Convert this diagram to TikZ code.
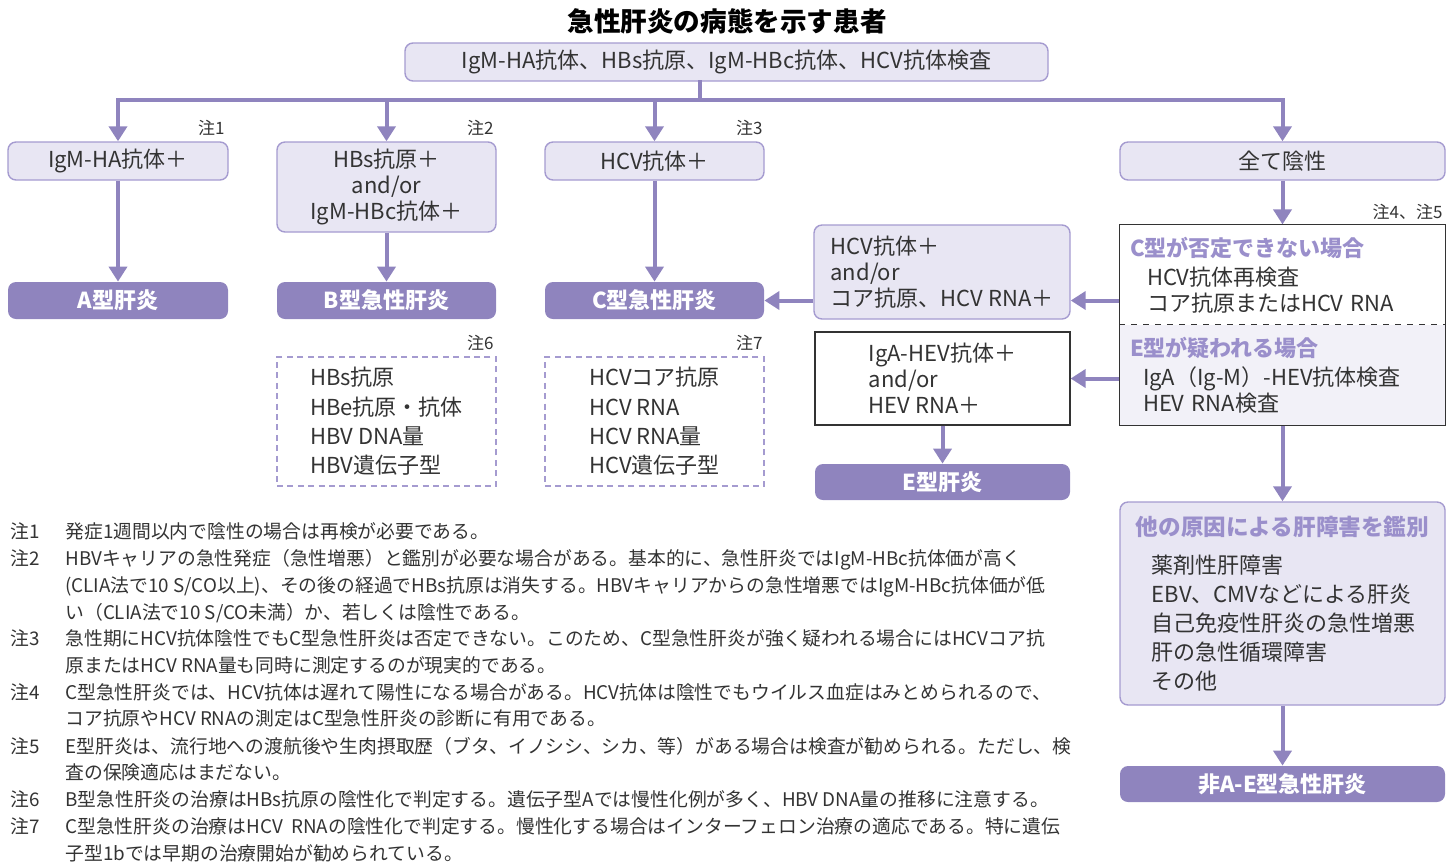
\documentclass[tikz,border=0pt]{standalone}
\usepackage{fontspec}
\setmainfont{Noto Sans CJK JP}
\usetikzlibrary{arrows.meta, positioning}

\definecolor{hpurple}{HTML}{8F84BE}
\definecolor{hlight}{HTML}{E8E6F3}
\definecolor{hborder}{HTML}{A59BD0}
\definecolor{hpale}{HTML}{F2F1F8}
\definecolor{hhead}{HTML}{9A8FCB}
\definecolor{hdark}{HTML}{333333}

\newcommand{\boxfont}{\fontsize{11}{13}\selectfont}
\newcommand{\notefont}{\fontsize{9.4}{12}\selectfont}

\tikzstyle{testbox} = [rectangle, rounded corners=4pt, draw=hborder, fill=hlight, line width=0.7pt, align=center, font=\boxfont, text=hdark]
\tikzstyle{result} = [rectangle, rounded corners=4pt, fill=hpurple, text=white, font=\boxfont\bfseries]
\tikzstyle{listbox} = [rectangle, draw=hborder, dash pattern=on 3pt off 2.2pt, line width=1.1pt, align=left, font=\fontsize{11}{14.7}\selectfont, text=hdark]
\tikzstyle{plainbox} = [rectangle, draw=hdark, line width=0.6pt, fill=white, align=left, font=\boxfont, text=hdark]
\tikzstyle{flow} = [line width=2pt, draw=hpurple, line cap=rect]
\tikzstyle{arrow} = [line width=2pt, draw=hpurple, -{Triangle[width=9pt,length=7.5pt]}]
\tikzstyle{noteref} = [anchor=base east, font=\fontsize{8.5}{10}\selectfont, text=hdark, inner sep=0pt]
\tikzstyle{notetext} = [anchor=base west, font=\notefont, text=hdark, inner sep=0pt]

\begin{document}
\begin{tikzpicture}[x=0.5pt, y=-0.5pt]
\useasboundingbox (0,0) rectangle (1456,864);

% title and first screening
\node (title) [font=\bfseries\fontsize{13.3}{16}\selectfont, text=black] at (727,21) {急性肝炎の病態を示す患者};
\node (screen) [testbox, minimum width=321.5pt, minimum height=19pt] at (726.5,62) {IgM-HA抗体、HBs抗原、IgM-HBc抗体、HCV抗体検査};
\coordinate (hub) at (700,100);

% first results
\node (igmha) [testbox, minimum width=110pt, minimum height=19pt] at (118,161) {IgM-HA抗体＋};
\node (hbs) [testbox, minimum width=109.5pt, minimum height=45pt] at (386.5,187) {HBs抗原＋\\and/or\\IgM-HBc抗体＋};
\node (hcv) [testbox, minimum width=109.5pt, minimum height=19pt] at (654.5,161) {HCV抗体＋};
\node (allneg) [testbox, minimum width=162.5pt, minimum height=19pt] at (1282.5,161) {全て陰性};

\node (ref1) [noteref] at (225,134) {注1};
\node (ref2) [noteref] at (494,134) {注2};
\node (ref3) [noteref] at (763,134) {注3};
\node (ref45) [noteref] at (1443,218) {注4、注5};
\node (ref6) [noteref] at (494,349) {注6};
\node (ref7) [noteref] at (763,349) {注7};

% diagnoses
\node (hepA) [result, minimum width=110pt, minimum height=18.5pt] at (118,300.5) {A型肝炎};
\node (hepB) [result, minimum width=109.5pt, minimum height=18.5pt] at (386.5,300.5) {B型急性肝炎};
\node (hepC) [result, minimum width=109.5pt, minimum height=18.5pt] at (654.5,300.5) {C型急性肝炎};
\node (hepE) [result, minimum width=127.5pt, minimum height=18pt] at (942.5,482) {E型肝炎};
\node (hepNonAE) [result, minimum width=162.5pt, minimum height=18pt] at (1282.5,784) {非A-E型急性肝炎};

% follow-up lists
\node (listB) [listbox, minimum width=109.5pt, minimum height=64.5pt] at (386.5,421.5) {HBs抗原\\HBe抗原・抗体\\HBV DNA量\\HBV遺伝子型};
\node (listC) [listbox, minimum width=109.5pt, minimum height=64.5pt] at (654.5,421.5) {HCVコア抗原\\HCV RNA\\HCV RNA量\\HCV遺伝子型};

% re-examination
\node (checkC) [plainbox, draw=none, minimum width=162.5pt, minimum height=50pt, text width=152.5pt, inner xsep=5pt] at (1282.5,275) {{\color{hhead}\bfseries C型が否定できない場合}\\[1.5pt]\hspace*{8.5pt}HCV抗体再検査\\\hspace*{8.5pt}コア抗原またはHCV RNA};
\node (checkE) [plainbox, draw=none, fill=hpale, minimum width=162.5pt, minimum height=50pt, text width=152.5pt, inner xsep=5pt] at (1282.5,375) {{\color{hhead}\bfseries E型が疑われる場合}\\[1.5pt]\hspace*{6.5pt}IgA（Ig-M）-HEV抗体検査\\\hspace*{6.5pt}HEV RNA検査};
\draw [hdark, line width=0.6pt] (checkC.north west) rectangle (checkE.south east);
\draw [hdark, line width=0.6pt, dashed] (checkE.north west) -- (checkE.north east);

\node (hcvPos) [testbox, align=left, minimum width=128pt, minimum height=47pt] at (942,272) {HCV抗体＋\\and/or\\コア抗原、HCV RNA＋};
\node (hevPos) [plainbox, minimum width=127.5pt, minimum height=46.5pt] at (942.5,378.5) {IgA-HEV抗体＋\\and/or\\HEV RNA＋};

\node (others) [testbox, align=left, minimum width=162.5pt, minimum height=101.5pt, font=\fontsize{11}{14.5}\selectfont] at (1282.5,603.5) {{\color{hhead}\bfseries\fontsize{11.3}{14.5}\selectfont 他の原因による肝障害を鑑別}\\[4.5pt]\hspace*{8pt}薬剤性肝障害\\\hspace*{8pt}EBV、CMVなどによる肝炎\\\hspace*{8pt}自己免疫性肝炎の急性増悪\\\hspace*{8pt}肝の急性循環障害\\\hspace*{8pt}その他};

% connectors
\draw [flow] (screen.south -| hub) -- (hub);
\draw [flow] (igmha.north |- hub) -- (allneg.north |- hub);
\draw [arrow] (igmha.north |- hub) -- (igmha);
\draw [arrow] (hbs.north |- hub) -- (hbs);
\draw [arrow] (hcv.north |- hub) -- (hcv);
\draw [arrow] (allneg.north |- hub) -- (allneg);
\draw [arrow] (igmha) -- (hepA);
\draw [arrow] (hbs) -- (hepB);
\draw [arrow] (hcv) -- (hepC);
\draw [arrow] (allneg) -- (checkC);
\draw [arrow] (checkC.west |- hepC) -- (hcvPos.east |- hepC);
\draw [arrow] (hcvPos.west |- hepC) -- (hepC);
\draw [arrow] (checkE.west |- hevPos) -- (hevPos);
\draw [arrow] (hevPos) -- (hepE);
\draw [arrow] (checkE) -- (others);
\draw [arrow] (others) -- (hepNonAE);

% notes
\node (n1) [notetext] at (10,538) {注1};
\node (n1a) [notetext] at (65,538) {発症1週間以内で陰性の場合は再検が必要である。};
\node (n2) [notetext] at (10,565) {注2};
\node (n2a) [notetext] at (65,565) {HBVキャリアの急性発症（急性増悪）と鑑別が必要な場合がある。基本的に、急性肝炎ではIgM-HBc抗体価が高く};
\node (n2b) [notetext] at (65,592) {(CLIA法で10 S/CO以上)、その後の経過でHBs抗原は消失する。HBVキャリアからの急性増悪ではIgM-HBc抗体価が低};
\node (n2c) [notetext] at (65,619) {い（CLIA法で10 S/CO未満）か、若しくは陰性である。};
\node (n3) [notetext] at (10,645) {注3};
\node (n3a) [notetext] at (65,645) {急性期にHCV抗体陰性でもC型急性肝炎は否定できない。このため、C型急性肝炎が強く疑われる場合にはHCVコア抗};
\node (n3b) [notetext] at (65,672) {原またはHCV RNA量も同時に測定するのが現実的である。};
\node (n4) [notetext] at (10,699) {注4};
\node (n4a) [notetext] at (65,699) {C型急性肝炎では、HCV抗体は遅れて陽性になる場合がある。HCV抗体は陰性でもウイルス血症はみとめられるので、};
\node (n4b) [notetext] at (65,725) {コア抗原やHCV RNAの測定はC型急性肝炎の診断に有用である。};
\node (n5) [notetext] at (10,753) {注5};
\node (n5a) [notetext] at (65,753) {E型肝炎は、流行地への渡航後や生肉摂取歴（ブタ、イノシシ、シカ、等）がある場合は検査が勧められる。ただし、検};
\node (n5b) [notetext] at (65,779) {査の保険適応はまだない。};
\node (n6) [notetext] at (10,806) {注6};
\node (n6a) [notetext] at (65,806) {B型急性肝炎の治療はHBs抗原の陰性化で判定する。遺伝子型Aでは慢性化例が多く、HBV DNA量の推移に注意する。};
\node (n7) [notetext] at (10,833) {注7};
\node (n7a) [notetext] at (65,833) {C型急性肝炎の治療はHCV\ \ RNAの陰性化で判定する。慢性化する場合はインターフェロン治療の適応である。特に遺伝};
\node (n7b) [notetext] at (65,860) {子型1bでは早期の治療開始が勧められている。};
\end{tikzpicture}
\end{document}
